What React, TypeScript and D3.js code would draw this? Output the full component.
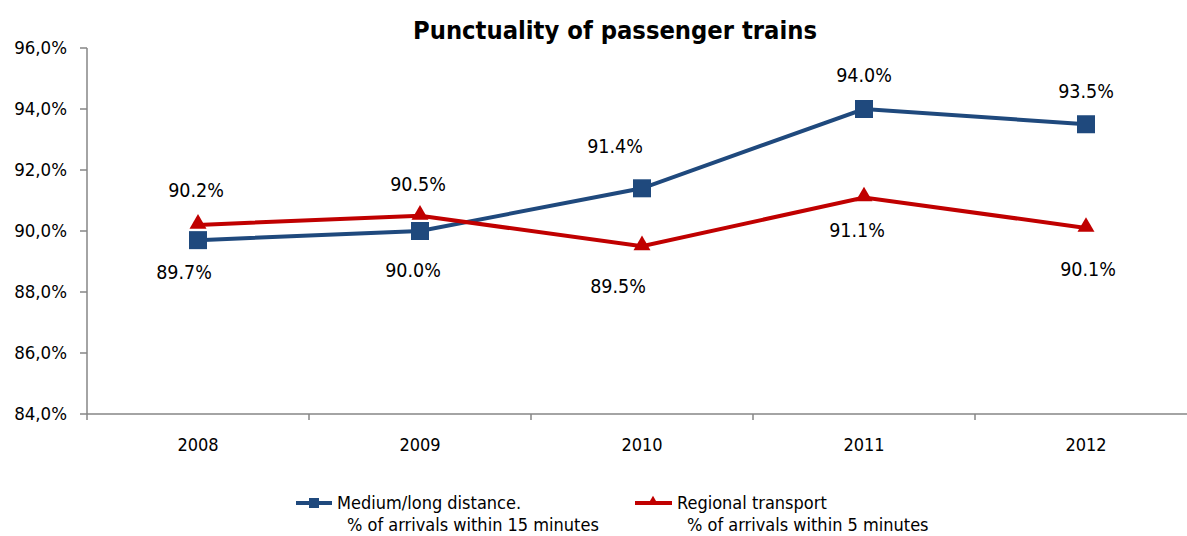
import React from "react";
import * as d3 from "d3";

const years = ["2008", "2009", "2010", "2011", "2012"];
const longDistance = [89.7, 90.0, 91.4, 94.0, 93.5];
const regional = [90.2, 90.5, 89.5, 91.1, 90.1];
const yTicks = [84, 86, 88, 90, 92, 94, 96];

// label placement offsets (px) relative to each point, as placed in the original chart
const longLabelDx = [-14, -7, -27, 0, 0];
const longLabelDy = [32, 39, -42, -34, -33];
const regionalLabelDx = [-2, -2, -24, -7, 2];
const regionalLabelDy = [-35, -32, 40, 33, 41];

const FONT = "'DejaVu Sans Condensed', 'DejaVu Sans', sans-serif";
const BLUE = "#1F497D";
const RED = "#C00000";

export default function App() {
  const W = 1187, H = 536;
  const left = 87, top = 48, bottom = 414;
  const step = 222;
  const x = d3.scaleBand<string>().domain(years).range([left, left + step * years.length]).padding(0);
  const cx = (y: string) => (x(y) as number) + x.bandwidth() / 2;
  const y = d3.scaleLinear().domain([84, 96]).range([bottom, top]);
  const line = d3.line<number>().x((_, i) => cx(years[i])).y((d) => y(d));
  const fmt = (v: number) => v.toFixed(1) + "%";
  const tri = d3.symbol().type(d3.symbolTriangle).size(125)();
  const sq = 18;

  return (
    <svg width={W} height={H} style={{ position: "absolute", left: 0, top: 0 }} fontFamily={FONT}>
      <rect width={W} height={H} fill="#fff" />
      <text x={615} y={30} dy="0.35em" textAnchor="middle" fontSize={25.3} fontWeight="bold" fill="#000">
        Punctuality of passenger trains
      </text>
      {/* y axis */}
      <line x1={left} x2={left} y1={top} y2={bottom} stroke="#868686" strokeWidth={1.5} />
      {yTicks.map((t) => (
        <g key={t}>
          <line x1={left - 7} x2={left} y1={y(t)} y2={y(t)} stroke="#868686" strokeWidth={1.5} />
          <text x={67} y={y(t)} dy="0.35em" textAnchor="end" fontSize={18.5} fill="#000">
            {t.toFixed(1).replace(".", ",") + "%"}
          </text>
        </g>
      ))}
      {/* x axis */}
      <line x1={left} x2={left + step * years.length} y1={bottom} y2={bottom} stroke="#868686" strokeWidth={1.5} />
      {years.map((yr, i) => (
        <line key={"t" + i} x1={(x(yr) as number)} x2={(x(yr) as number)} y1={bottom} y2={bottom + 6} stroke="#868686" strokeWidth={1.5} />
      ))}
      {years.map((yr) => (
        <text key={yr} x={cx(yr)} y={445} dy="0.35em" textAnchor="middle" fontSize={18} fill="#000">{yr}</text>
      ))}
      {/* lines */}
      <path d={line(longDistance) as string} fill="none" stroke={BLUE} strokeWidth={4} />
      <path d={line(regional) as string} fill="none" stroke={RED} strokeWidth={4} />
      {longDistance.map((v, i) => (
        <rect key={"s" + i} x={cx(years[i]) - sq / 2} y={y(v) - sq / 2} width={sq} height={sq} fill={BLUE} />
      ))}
      {regional.map((v, i) => (
        <path key={"tr" + i} d={tri as string} transform={`translate(${cx(years[i])},${y(v) - 1})`} fill={RED} />
      ))}
      {longDistance.map((v, i) => (
        <text key={"ll" + i} x={cx(years[i]) + longLabelDx[i]} y={y(v) + longLabelDy[i]} dy="0.35em" textAnchor="middle" fontSize={19.5} fill="#000">
          {fmt(v)}
        </text>
      ))}
      {regional.map((v, i) => (
        <text key={"rl" + i} x={cx(years[i]) + regionalLabelDx[i]} y={y(v) + regionalLabelDy[i]} dy="0.35em" textAnchor="middle" fontSize={19.5} fill="#000">
          {fmt(v)}
        </text>
      ))}
      {/* legend */}
      <g>
        <line x1={296} x2={332} y1={503} y2={503} stroke={BLUE} strokeWidth={4} />
        <rect x={309} y={498} width={10} height={10} fill={BLUE} />
        <text x={337} y={503} dy="0.35em" fontSize={18} fill="#000">Medium/long distance.</text>
        <text x={347} y={525} dy="0.35em" fontSize={18} fill="#000">% of arrivals within 15 minutes</text>
        <line x1={635} x2={672} y1={503} y2={503} stroke={RED} strokeWidth={4} />
        <path d={d3.symbol().type(d3.symbolTriangle).size(50)() as string} transform="translate(653,502)" fill={RED} />
        <text x={677} y={503} dy="0.35em" fontSize={18} fill="#000">Regional transport</text>
        <text x={687} y={525} dy="0.35em" fontSize={18} fill="#000">% of arrivals within 5 minutes</text>
      </g>
    </svg>
  );
}
